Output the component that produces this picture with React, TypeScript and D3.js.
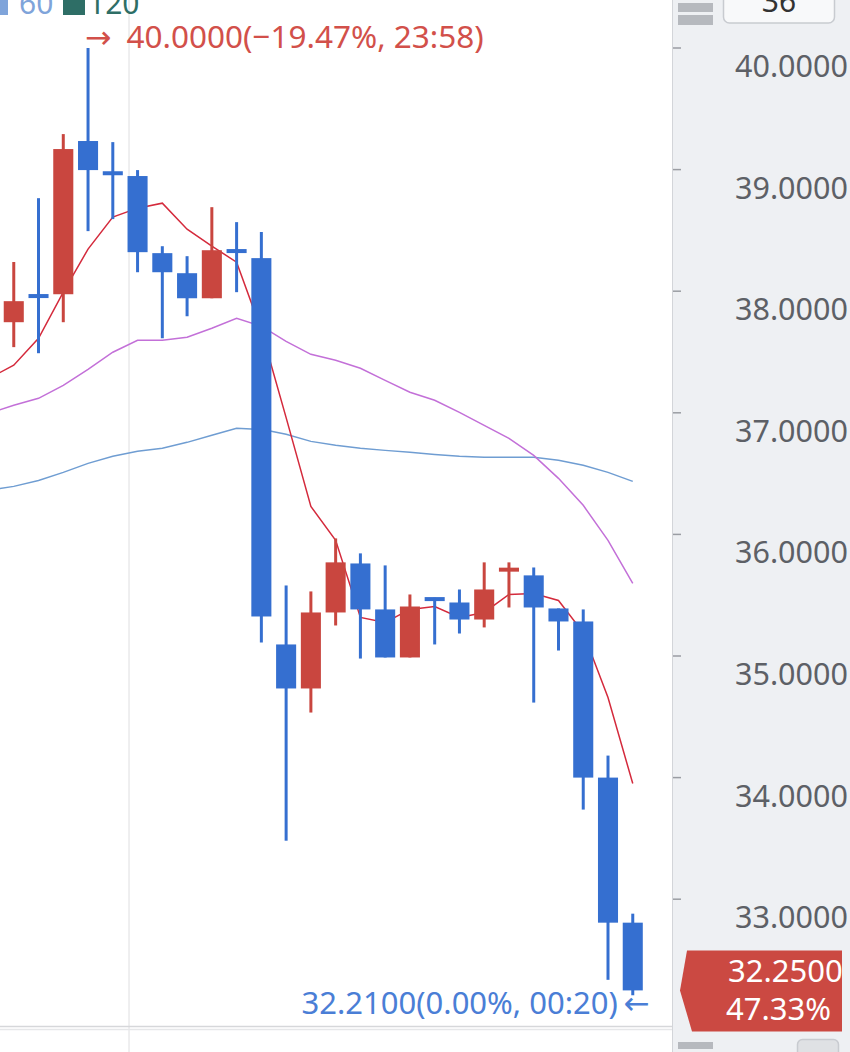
import React from 'react';
import * as d3 from 'd3';

// ---- data (1-minute candles) ----
const times = ['23:54','23:55','23:56','23:57','23:58','23:59','00:00','00:01','00:02','00:03','00:04','00:05','00:06','00:07','00:08','00:09','00:10','00:11','00:12','00:13','00:14','00:15','00:16','00:17','00:18','00:19','00:20'];
const opens  = [37.50, 37.745, 37.965, 37.975, 39.235, 38.975, 38.947, 38.313, 38.148, 37.942, 38.335, 38.272, 35.095, 34.733, 35.358, 35.761, 35.383, 34.988, 35.473, 35.440, 35.300, 35.705, 35.663, 35.391, 35.284, 34.000, 32.807];
const highs  = [37.80, 38.240, 38.765, 39.292, 40.000, 39.226, 38.996, 38.370, 38.288, 38.691, 38.568, 38.486, 35.580, 35.531, 35.967, 35.844, 35.745, 35.506, 35.480, 35.547, 35.770, 35.770, 35.728, 35.391, 35.383, 34.181, 32.881];
const lows   = [37.45, 37.540, 37.490, 37.745, 38.494, 38.593, 38.156, 37.613, 37.794, 37.942, 37.992, 35.111, 33.481, 34.535, 35.251, 34.979, 34.988, 34.988, 35.095, 35.185, 35.235, 35.399, 34.617, 35.045, 33.737, 32.337, 32.210];
const closes = [37.745, 37.918, 37.955, 39.169, 38.996, 38.965, 38.321, 38.156, 37.942, 38.337, 38.325, 35.325, 34.733, 35.358, 35.770, 35.383, 34.988, 35.407, 35.463, 35.300, 35.547, 35.715, 35.399, 35.284, 34.000, 32.807, 32.250];

const ma5  = [37.284, 37.391, 37.613, 37.992, 38.346, 38.609, 38.683, 38.724, 38.510, 38.370, 38.239, 37.679, 36.960, 36.230, 35.951, 35.317, 35.276, 35.383, 35.407, 35.317, 35.358, 35.506, 35.514, 35.457, 35.193, 34.658, 33.951];
const ma20 = [36.996, 37.062, 37.119, 37.226, 37.358, 37.498, 37.597, 37.597, 37.621, 37.695, 37.778, 37.712, 37.588, 37.481, 37.432, 37.366, 37.267, 37.169, 37.103, 37.004, 36.897, 36.790, 36.650, 36.461, 36.239, 35.951, 35.597];
const ma60 = [36.362, 36.395, 36.444, 36.510, 36.584, 36.642, 36.683, 36.708, 36.757, 36.815, 36.872, 36.864, 36.823, 36.765, 36.733, 36.708, 36.691, 36.675, 36.658, 36.642, 36.634, 36.634, 36.634, 36.609, 36.568, 36.510, 36.436];

const priceTicks = [33, 34, 35, 36, 37, 38, 39, 40];
const legendLabels = ['60', '120'];
const legendColors = ['#7fa4da', '#2e6e66'];
const highText = '40.0000(\u221219.47%, 23:58)';
const lowText = '32.2100(0.00%, 00:20)';
const currentPrice = 32.25;
const currentPriceText = '32.2500';
const currentChangeText = '47.33%';
const intervalText = '36';
const highIndex = 4;
const lowIndex = 26;
const midnight = '00:00';

const W = 850;
const H = 1052;
const PLOT_R = 672;
const PLOT_B = 1027;
const UP = '#c9463f';
const DOWN = '#356fd0';
const FONT = "'Noto Sans', 'DejaVu Sans', sans-serif";

export default function App() {
  const step = 24.76;
  const x = d3.scaleBand<string>()
    .domain(times)
    .range([-11 - step / 2, -11 - step / 2 + step * times.length])
    .paddingInner(0.19)
    .paddingOuter(0.095);
  const bw = x.bandwidth();
  const cx = (t: string) => (x(t) as number) + bw / 2;

  const y = d3.scaleLinear().domain([40, 32]).range([48, 48 + 8 * 121.6]);

  const lineGen = (vals: number[]) =>
    d3.line<number>()
      .x((_, i) => cx(times[i]))
      .y((v) => y(v))(vals) as string;

  const candles = times.map((t, i) => {
    const o = opens[i], c = closes[i];
    const color = c >= o ? UP : DOWN;
    let top = y(Math.max(o, c));
    let bot = y(Math.min(o, c));
    if (bot - top < 4) {
      const m = (top + bot) / 2;
      top = m - 2;
      bot = m + 2;
    }
    return (
      <g key={t}>
        <line x1={cx(t)} x2={cx(t)} y1={y(highs[i])} y2={y(lows[i])} stroke={color} strokeWidth={3} />
        <rect x={x(t)} y={top} width={bw} height={bot - top} fill={color} />
      </g>
    );
  });

  const gridX = (x(midnight) as number) + 1.5;
  const cp = y(currentPrice);
  const hx = cx(times[highIndex]);
  const lx = cx(times[lowIndex]);

  return (
    <svg width={W} height={H} style={{ position: 'absolute', left: 0, top: 0, background: '#fff' }} fontFamily={FONT}>
      <defs>
        <clipPath id="plotClip">
          <rect x={0} y={0} width={PLOT_R} height={PLOT_B} />
        </clipPath>
      </defs>
      <rect x={0} y={0} width={PLOT_R} height={H} fill="#ffffff" />
      {/* vertical day divider */}
      <line x1={gridX} x2={gridX} y1={0} y2={H} stroke="#e9e9eb" strokeWidth={1.5} />

      <g clipPath="url(#plotClip)">
        <path d={lineGen(ma60)} fill="none" stroke="#6f9dd2" strokeWidth={1.5} />
        <path d={lineGen(ma20)} fill="none" stroke="#c370d8" strokeWidth={1.5} />
        <path d={lineGen(ma5)} fill="none" stroke="#d42a3c" strokeWidth={1.5} />
        {candles}
      </g>

      {/* high / low annotations */}
      <text x={hx - 3} y={y(highs[highIndex])} fontSize={31.5} fill="#d2504a">
        <tspan>{'\u2192'}</tspan>
        <tspan dx={15}>{highText}</tspan>
      </text>
      <text x={lx + 17} y={y(lows[lowIndex]) + 19} fontSize={31} fill="#4a7ed6" textAnchor="end">
        <tspan>{lowText}</tspan>
        <tspan dx={6}>{'\u2190'}</tspan>
      </text>

      {/* legend (partially cut at top) */}
      <rect x={-14} y={-7} width={22} height={22} fill={legendColors[0]} />
      <text x={19} y={14} fontSize={30} fill={legendColors[0]}>{legendLabels[0]}</text>
      <rect x={63} y={-7} width={22} height={22} fill={legendColors[1]} />
      <text x={88} y={14} fontSize={30} fill={legendColors[1]}>{legendLabels[1]}</text>

      {/* bottom separator */}
      <line x1={0} x2={PLOT_R} y1={1026.5} y2={1026.5} stroke="#d6d7da" strokeWidth={1.5} />
      <line x1={0} x2={PLOT_R} y1={1029.5} y2={1029.5} stroke="#e6e7e9" strokeWidth={1.5} />

      {/* right axis panel */}
      <rect x={PLOT_R} y={0} width={W - PLOT_R} height={H} fill="#eef0f3" />
      <line x1={PLOT_R + 0.5} x2={PLOT_R + 0.5} y1={0} y2={H} stroke="#d3d5d9" strokeWidth={1} />
      {priceTicks.map((p) => (
        <g key={p}>
          <line x1={PLOT_R + 1} x2={PLOT_R + 9} y1={y(p)} y2={y(p)} stroke="#9a9da3" strokeWidth={1.5} />
          <text x={735} y={y(p) + 29} fontSize={30.5} fill="#5d6066">{p.toFixed(4)}</text>
        </g>
      ))}

      {/* current price tag */}
      <path d={`M${PLOT_R + 8},${cp} L${PLOT_R + 15},${cp - 40} L842,${cp - 40} L842,${cp + 41} L${PLOT_R + 20},${cp + 41} Z`} fill="#cb4942" />
      <text x={728} y={cp - 8} fontSize={31} fill="#ffffff">{currentPriceText}</text>
      <text x={726} y={cp + 30} fontSize={31} fill="#ffffff">{currentChangeText}</text>

      {/* top-right controls */}
      <rect x={678} y={3} width={35} height={9} fill="#b6b9be" />
      <rect x={678} y={15} width={35} height={10} fill="#b6b9be" />
      <rect x={723.5} y={-10} width={111} height={33} rx={6} fill="#f8f9fa" stroke="#c8cbd0" strokeWidth={1.5} />
      <text x={779} y={12} fontSize={30} fill="#333" textAnchor="middle">{intervalText}</text>

      {/* bottom-right controls */}
      <rect x={678} y={1042} width={35} height={7} fill="#b6b9be" />
      <rect x={797.5} y={1039.5} width={41} height={30} rx={5} fill="#dfe1e4" stroke="#c8cbd0" strokeWidth={1.5} />
    </svg>
  );
}
